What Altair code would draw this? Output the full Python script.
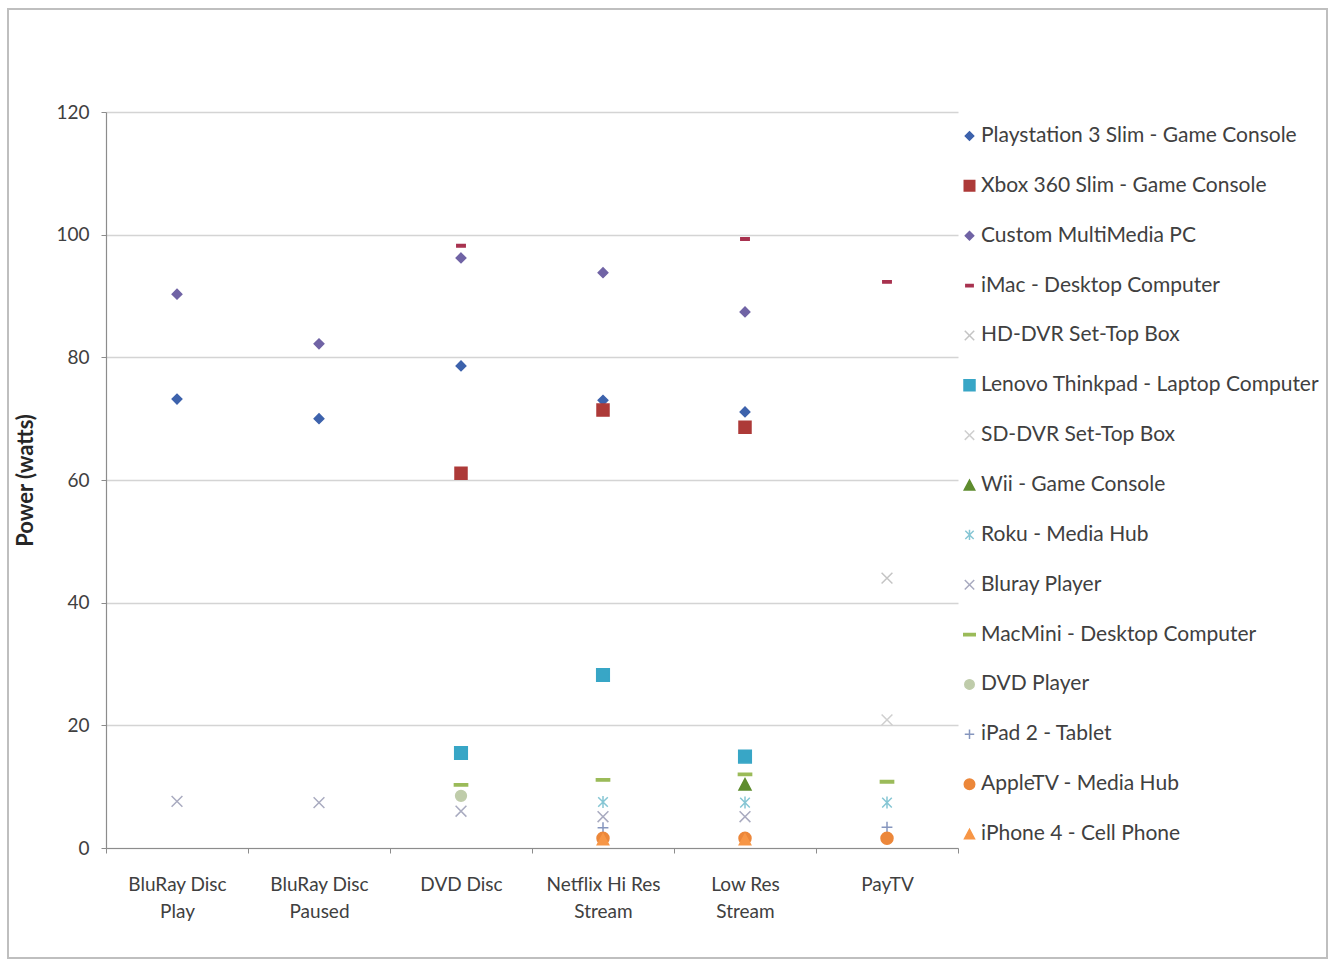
import altair as alt
import pandas as pd

categories = ["BluRay Disc|Play", "BluRay Disc|Paused", "DVD Disc",
              "Netflix Hi Res|Stream", "Low Res|Stream", "PayTV"]

series_names = [
    "Playstation 3 Slim - Game Console",
    "Xbox 360 Slim - Game Console",
    "Custom MultiMedia PC",
    "iMac - Desktop Computer",
    "HD-DVR Set-Top Box",
    "Lenovo Thinkpad - Laptop Computer",
    "SD-DVR Set-Top Box",
    "Wii - Game Console",
    "Roku - Media Hub",
    "Bluray Player",
    "MacMini - Desktop Computer",
    "DVD Player",
    "iPad 2 - Tablet",
    "AppleTV - Media Hub",
    "iPhone 4 - Cell Phone",
]

ps3 = [73.2, 70.0, 78.6, 73.0, 71.1, None]
xbox = [None, None, 61.1, 71.4, 68.6, None]
custom_pc = [90.3, 82.2, 96.2, 93.8, 87.4, None]
imac = [None, None, 98.2, None, 99.3, 92.3]
hd_dvr = [None, None, None, None, None, 44.0]
lenovo = [None, None, 15.5, 28.2, 14.9, None]
sd_dvr = [None, None, None, None, None, 20.9]
wii = [None, None, None, None, 10.4, None]
roku = [None, None, None, 7.5, 7.4, 7.4]
bluray = [7.6, 7.4, 6.0, 5.1, 5.1, None]
macmini = [None, None, 10.3, 11.1, 12.0, 10.8]
dvd_player = [None, None, 8.5, None, None, None]
ipad = [None, None, None, 3.3, None, 3.4]
appletv = [None, None, None, 1.6, 1.6, 1.6]
iphone = [None, None, None, 1.4, 1.4, None]

all_values = [ps3, xbox, custom_pc, imac, hd_dvr, lenovo, sd_dvr, wii, roku,
              bluray, macmini, dvd_player, ipad, appletv, iphone]

colors = ["#3D62AC", "#AD3A38", "#7063A5", "#A8324F", "#C4C4C4", "#38A6C6",
          "#CFCFCF", "#5E8C2E", "#86C6D4", "#A9ABC0", "#9BBB59", "#BFCCAA",
          "#8696BE", "#EC873A", "#F79646"]

shapes = [
    "M0,-0.8L0.8,0L0,0.8L-0.8,0Z",
    "M-1,-1H1V1H-1Z",
    "M0,-0.8L0.8,0L0,0.8L-0.8,0Z",
    "M-0.7,-0.2H0.7V0.2H-0.7Z",
    "M-0.9,-0.9L0.9,0.9M-0.9,0.9L0.9,-0.9",
    "M-1.05,-1.05H1.05V1.05H-1.05Z",
    "M-0.9,-0.9L0.9,0.9M-0.9,0.9L0.9,-0.9",
    "M0,-0.95L1,0.95H-1Z",
    "M-0.8,-0.8L0.8,0.8M-0.8,0.8L0.8,-0.8M0,-1L0,1",
    "M-0.9,-0.9L0.9,0.9M-0.9,0.9L0.9,-0.9",
    "M-1.1,-0.2H1.1V0.2H-1.1Z",
    "M-0.9,0A0.9,0.9,0,1,0,0.9,0A0.9,0.9,0,1,0,-0.9,0Z",
    "M-0.9,0H0.9M0,-0.9V0.9",
    "M-1,0A1,1,0,1,0,1,0A1,1,0,1,0,-1,0Z",
    "M0,-0.9L0.95,0.9H-0.95Z",
]

rows = []
for name, vals in zip(series_names, all_values):
    for cat, v in zip(categories, vals):
        if v is not None:
            rows.append({"series": name, "category": cat, "value": v})
df = pd.DataFrame(rows)

FONT = "Lato"

legend = alt.Legend(
    title=None, orient="none", legendX=853, legendY=14,
    symbolSize=110, symbolStrokeWidth=1.5,
    labelFontSize=21, labelFont=FONT, labelColor="#404040",
    rowPadding=28.86, clipHeight=20, labelOffset=1, padding=0,
    labelLimit=400,
)

color_scale = alt.Scale(domain=series_names, range=colors)

frame = alt.Chart(pd.DataFrame({"f": [0]})).mark_rect(
    fillOpacity=0, stroke="#BFBFBF", strokeWidth=2
).encode(
    x=alt.value(-98), x2=alt.value(1221), y=alt.value(-103), y2=alt.value(846)
)

points = alt.Chart(df).mark_point(size=144, opacity=1, strokeWidth=1.5).encode(
    x=alt.X(
        "category:N", sort=categories,
        scale=alt.Scale(type="band", domain=categories, paddingInner=0, paddingOuter=0),
        axis=alt.Axis(
            title=None, labelExpr="split(datum.label, '|')", labelAngle=0,
            labelFont=FONT, labelFontSize=19, labelColor="#404040",
            labelLineHeight=27, labelPadding=22, tickBand="extent",
            tickSize=5, tickColor="#8C8C8C", domainColor="#8C8C8C",
            domainWidth=1.2, grid=False, labelLimit=200,
        ),
    ),
    y=alt.Y(
        "value:Q",
        scale=alt.Scale(domain=[0, 120], nice=False),
        axis=alt.Axis(
            title="Power (watts)", values=[0, 20, 40, 60, 80, 100, 120],
            titleFont=FONT, titleFontSize=22, titleFontWeight="bold",
            titleColor="#262626", titleX=-69, titleY=368,
            labelFont=FONT, labelFontSize=19, labelColor="#404040",
            labelPadding=12, tickSize=5, tickColor="#8C8C8C",
            domainColor="#8C8C8C", domainWidth=1.2,
            gridColor="#D4D4D4", gridWidth=1.5,
        ),
    ),
    fill=alt.Fill("series:N", scale=color_scale, legend=legend),
    stroke=alt.Stroke("series:N", scale=color_scale, legend=legend),
    shape=alt.Shape("series:N", scale=alt.Scale(domain=series_names, range=shapes), legend=legend),
)

chart = alt.layer(frame, points).properties(
    width=852, height=736,
    autosize=alt.AutoSizeParams(type="none"),
    padding={"left": 106, "top": 112, "right": 380, "bottom": 114},
    background="white",
).configure_view(stroke=None)

chart.save("out.html", embed_options={"renderer": "svg", "actions": False})
